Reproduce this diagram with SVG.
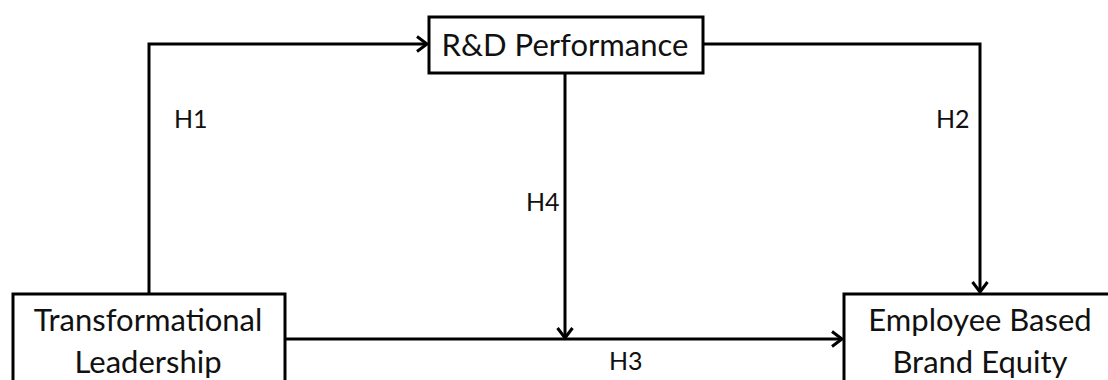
<svg xmlns="http://www.w3.org/2000/svg" width="1108" height="380" viewBox="0 0 1108 380">
  <style>
    .box { fill: #ffffff; stroke: #000000; stroke-width: 3; }
    .lbl { font-family: Lato, "Open Sans", "Liberation Sans", sans-serif; font-size: 31px; fill: #111111; text-anchor: middle; }
    .hyp { font-family: Lato, "Open Sans", "Liberation Sans", sans-serif; font-size: 25px; fill: #111111; }
    .link { fill: none; stroke: #000000; stroke-width: 3; }
  </style>
  <defs>
    <marker id="arrow" markerUnits="userSpaceOnUse" markerWidth="16" markerHeight="20" refX="12" refY="9" orient="auto">
      <path d="M2,1.5 L12,9 L2,16.5" fill="none" stroke="#000000" stroke-width="3"/>
    </marker>
  </defs>
  <rect width="1108" height="380" fill="#ffffff"/>

  <g id="connectors">
    <path id="h1" class="link" d="M149,294 V44 H427" marker-end="url(#arrow)"/>
    <path id="h2" class="link" d="M703,44 H980 V292" marker-end="url(#arrow)"/>
    <path id="h4" class="link" d="M565,73 V338" marker-end="url(#arrow)"/>
    <path id="h3" class="link" d="M285,339 H842" marker-end="url(#arrow)"/>
  </g>

  <g id="node-rd">
    <rect class="box" x="429" y="17" width="274" height="56"/>
    <text class="lbl" x="565" y="56">R&amp;D Performance</text>
  </g>

  <g id="node-tl">
    <rect class="box" x="13" y="294" width="272" height="100"/>
    <text class="lbl" x="148" y="331">Transformational</text>
    <text class="lbl" x="148" y="373">Leadership</text>
  </g>

  <g id="node-ebbe">
    <rect class="box" x="844" y="294" width="300" height="100"/>
    <text class="lbl" x="980" y="331">Employee Based</text>
    <text class="lbl" x="980" y="373">Brand Equity</text>
  </g>

  <g id="labels">
    <text class="hyp" x="174" y="128">H1</text>
    <text class="hyp" x="936" y="128">H2</text>
    <text class="hyp" x="526" y="211">H4</text>
    <text class="hyp" x="609" y="370">H3</text>
  </g>
</svg>
